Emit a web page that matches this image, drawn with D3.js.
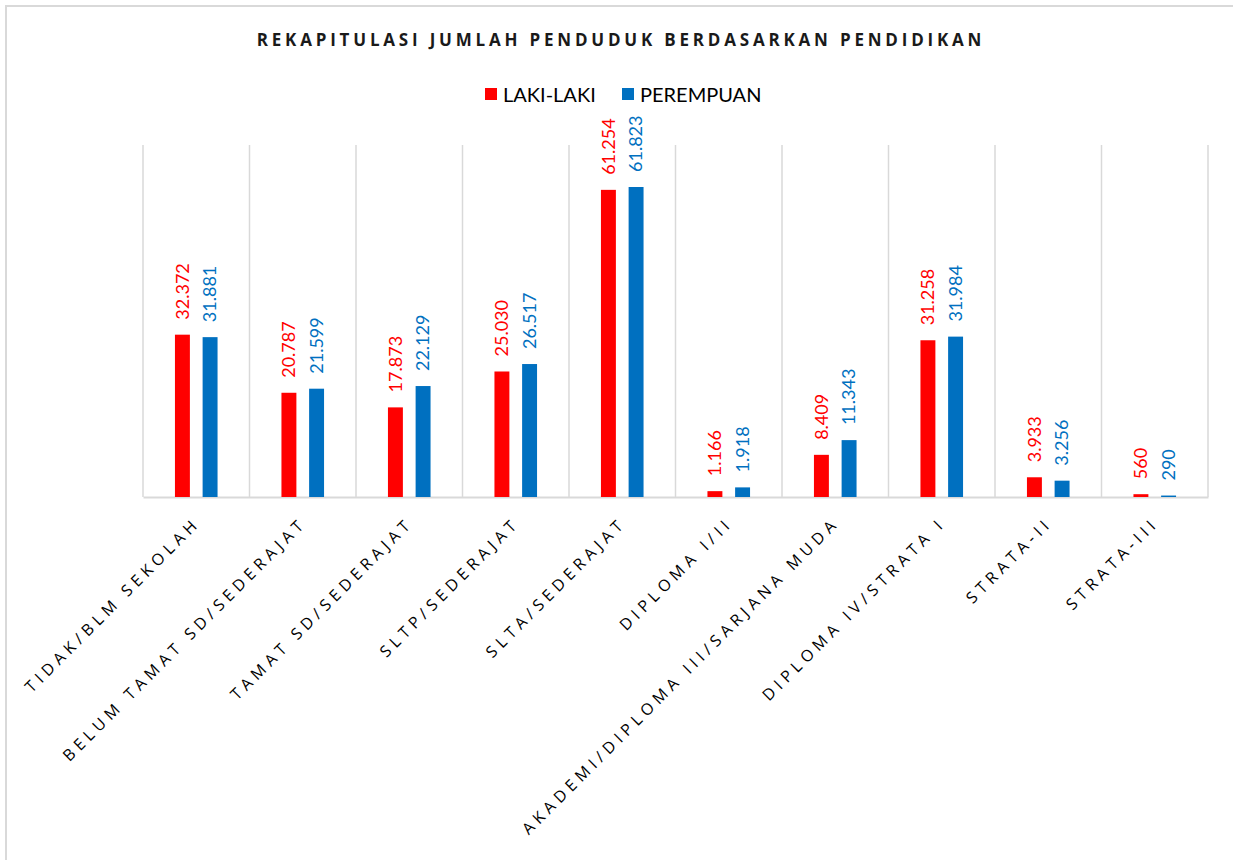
<!doctype html>
<html lang="id">
<head>
    <meta charset="UTF-8">
    <title>Rekapitulasi Jumlah Penduduk Berdasarkan Pendidikan</title>
    <style>
        body { margin: 0; background: #fff; }
        svg { display: block; }
    </style>
</head>
<body>

<div class="canvas">
    <svg width="1233" height="860"></svg>
</div>

<script src="https://d3js.org/d3.v7.min.js"></script>
<script>
    // data
    const categories = [
        'TIDAK/BLM SEKOLAH',
        'BELUM TAMAT SD/SEDERAJAT',
        'TAMAT SD/SEDERAJAT',
        'SLTP/SEDERAJAT',
        'SLTA/SEDERAJAT',
        'DIPLOMA I/II',
        'AKADEMI/DIPLOMA III/SARJANA MUDA',
        'DIPLOMA IV/STRATA I',
        'STRATA-II',
        'STRATA-III'
    ];
    const seriesNames = ['LAKI-LAKI', 'PEREMPUAN'];
    const lakiLaki  = [32372, 20787, 17873, 25030, 61254, 1166, 8409, 31258, 3933, 560];
    const perempuan = [31881, 21599, 22129, 26517, 61823, 1918, 11343, 31984, 3256, 290];
    const colors = ['#ff0000', '#0070c0'];

    const series = [lakiLaki, perempuan];

    const svg = d3.select('.canvas svg');

    // chart border
    svg.append('rect')
        .attr('x', 6).attr('y', 6)
        .attr('width', 1260).attr('height', 900)
        .attr('fill', 'none')
        .attr('stroke', '#d9d9d9')
        .attr('stroke-width', 2);

    const plot = { left: 143, right: 1208, top: 146, bottom: 497 };

    const x0 = d3.scaleBand()
        .domain(categories)
        .range([plot.left, plot.right])
        .padding(0);

    const x1 = d3.scaleBand()
        .domain(seriesNames)
        .range([x0.bandwidth() * 0.3, x0.bandwidth() * 0.7])
        .paddingInner(0.46);

    const y = d3.scaleLinear()
        .domain([0, 70000])
        .range([plot.bottom, plot.top]);

    const fmt = d3.formatLocale({ decimal: ',', thousands: '.', grouping: [3], currency: ['', ''] }).format(',d');

    // vertical gridlines at category boundaries
    const bounds = categories.map(c => x0(c)).concat([plot.right]);
    svg.append('g')
        .selectAll('line')
        .data(bounds)
        .enter()
        .append('line')
        .attr('x1', d => d).attr('x2', d => d)
        .attr('y1', plot.top - 1).attr('y2', plot.bottom)
        .attr('stroke', '#d9d9d9')
        .attr('stroke-width', 1.5);

    // baseline axis
    const xAxis = d3.axisBottom(x0).tickSize(0).tickFormat('');
    svg.append('g')
        .attr('transform', `translate(0, ${plot.bottom})`)
        .call(xAxis)
        .call(g => g.select('.domain').attr('stroke', '#d9d9d9').attr('stroke-width', 2));

    // bars
    const rows = categories.map((c, i) => ({
        cat: c,
        values: seriesNames.map((s, j) => ({ s, j, v: series[j][i] }))
    }));

    const groups = svg.append('g')
        .selectAll('g')
        .data(rows)
        .enter()
        .append('g')
        .attr('transform', d => `translate(${x0(d.cat)}, 0)`);

    groups.selectAll('rect')
        .data(d => d.values)
        .enter()
        .append('rect')
        .attr('x', d => x1(d.s))
        .attr('width', x1.bandwidth())
        .attr('y', d => y(d.v))
        .attr('height', d => y(0) - y(d.v))
        .attr('fill', d => colors[d.j]);

    // value labels
    groups.selectAll('text')
        .data(d => d.values)
        .enter()
        .append('text')
        .attr('transform', d => `translate(${x1(d.s) + x1.bandwidth() / 2}, ${y(d.v) - 15}) rotate(-90)`)
        .attr('dy', '0.35em')
        .attr('fill', d => colors[d.j])
        .style('font-family', 'Lato, sans-serif')
        .style('font-size', '18px')
        .text(d => fmt(d.v));

    // category labels
    svg.append('g')
        .selectAll('text')
        .data(categories)
        .enter()
        .append('text')
        .attr('transform', d => `translate(${x0(d) + x0.bandwidth() / 2 + 5}, ${plot.bottom + 27}) rotate(-45)`)
        .attr('text-anchor', 'end')
        .style('font-family', '"Open Sans", sans-serif')
        .style('font-size', '16px')
        .style('letter-spacing', '4.8px')
        .attr('fill', '#000')
        .text(d => d);

    // title
    svg.append('text')
        .attr('x', 621)
        .attr('y', 46)
        .attr('text-anchor', 'middle')
        .style('font-family', '"Open Sans", sans-serif')
        .style('font-weight', 'bold')
        .style('font-size', '17px')
        .style('letter-spacing', '3.8px')
        .attr('fill', '#1a1a1a')
        .text('REKAPITULASI JUMLAH PENDUDUK BERDASARKAN PENDIDIKAN');

    // legend
    const legendX = [485, 622];
    const legend = svg.append('g')
        .selectAll('g')
        .data(seriesNames)
        .enter()
        .append('g')
        .attr('transform', (d, i) => `translate(${legendX[i]}, 88)`);

    legend.append('rect')
        .attr('width', 12).attr('height', 12)
        .attr('fill', (d, i) => colors[i]);

    legend.append('text')
        .attr('x', 18)
        .attr('y', 13.5)
        .style('font-family', 'Lato, sans-serif')
        .style('font-size', '20px')
        .attr('fill', '#000')
        .text(d => d);
</script>
</body>
</html>
